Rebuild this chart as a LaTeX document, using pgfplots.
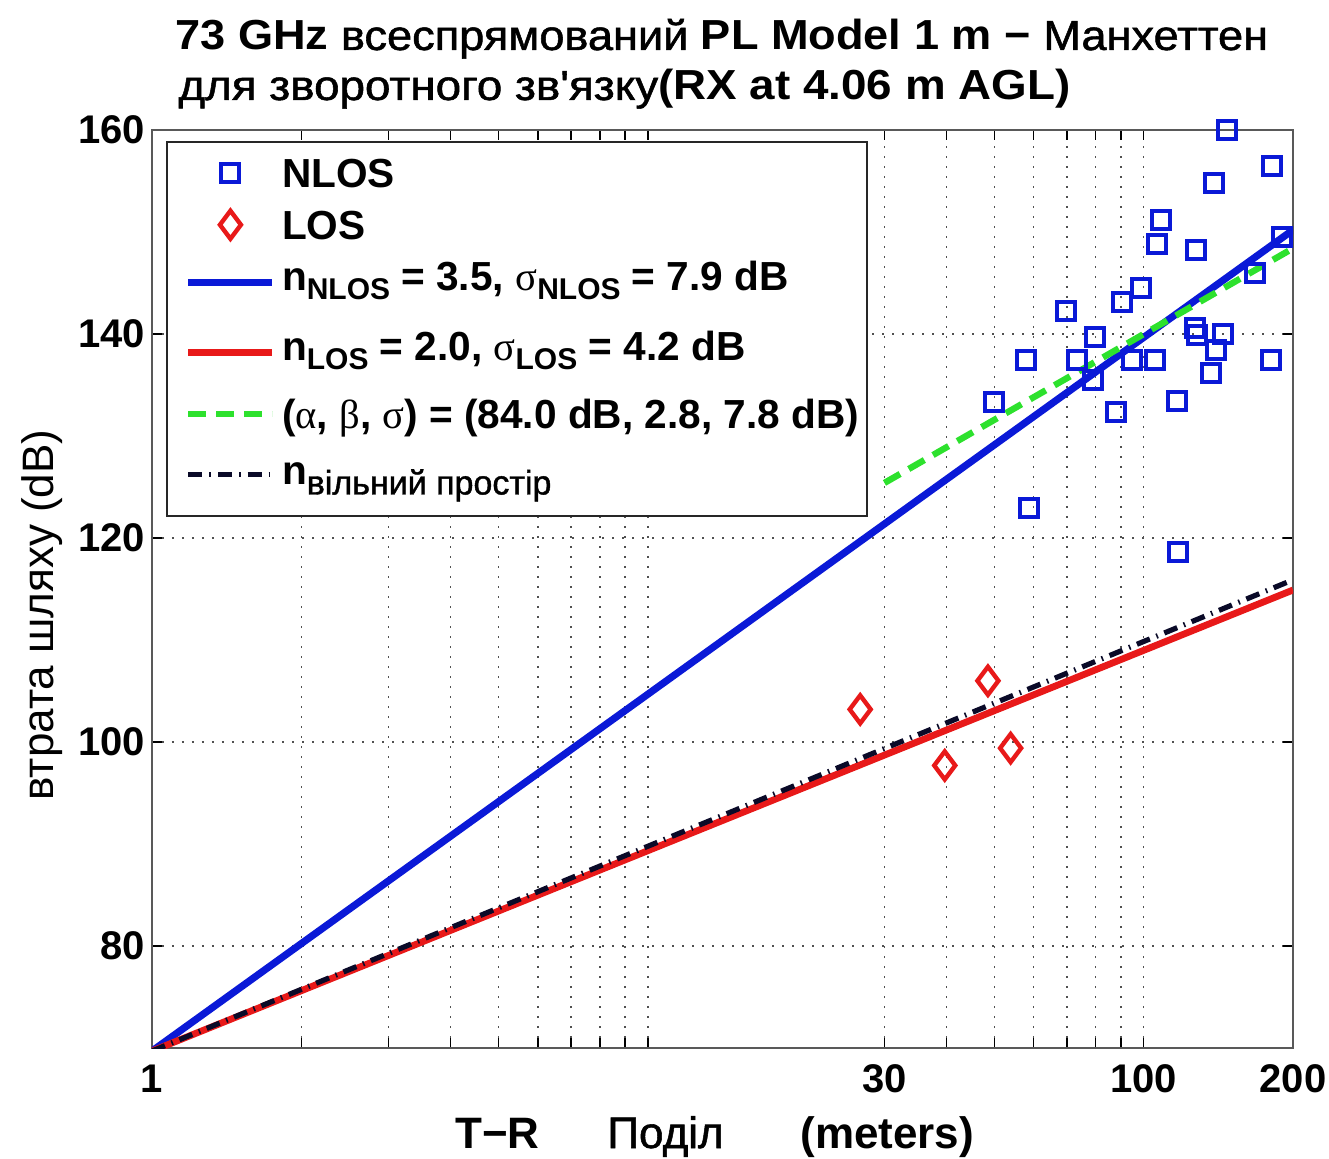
\documentclass[border=0pt]{standalone}
\usepackage{pgfplots}
\pgfplotsset{compat=1.18}
\usepackage{fontspec}
\setmainfont{Liberation Sans}
\newfontfamily\cyr{Liberation Sans}
\newfontfamily\cyrm[FakeBold=1.2]{Liberation Sans}
\newfontfamily\grk{Liberation Serif}
\definecolor{nlosblue}{RGB}{10,25,215}
\definecolor{losred}{RGB}{232,25,25}
\definecolor{fitgreen}{RGB}{45,225,45}
\definecolor{fsblack}{RGB}{10,10,40}
\definecolor{gridgray}{RGB}{80,80,80}
\newcommand{\sub}[1]{\raisebox{-0.45ex}{\fontsize{15}{15}\selectfont #1}}
\begin{document}
\begin{tikzpicture}[x=1pt,y=1pt]
\path[use as bounding box] (-76,-55) rectangle (588.5,524);
\begin{axis}[
  at={(0,0)}, anchor=south west,
  scale only axis, width=570.5pt, height=459pt,
  xmode=log, xmin=1, xmax=200, ymin=70, ymax=160,
  xtick={1,2,3,4,5,6,7,8,9,10,30,40,50,60,70,80,90,100,200},
  xticklabels={1,,,,,,,,,,30,,,,,,,100,200},
  ytick={80,100,120,140,160},
  xminorticks=false, yminorticks=false,
  grid=major,
  major grid style={gridgray, line width=0.7pt, dash pattern=on 0.8pt off 4.2pt},
  tick align=inside, major tick length=5pt,
  tick style={black, line width=0.7pt},
  axis line style={black!65, line width=1.1pt},
  ticklabel style={font=\fontsize{20}{20}\selectfont\bfseries},
  xticklabel style={yshift=-5pt},
  /pgf/number format/assume math mode=true,
  legend cell align=left,
  legend style={at={(0.0123,0.988)}, anchor=north west, draw=black!85, line width=0.8pt,
    fill=white, font=\fontsize{20.3}{24}\selectfont\bfseries,
    inner xsep=3pt, inner ysep=2pt, row sep=0pt, nodes={inner sep=1pt}},
  legend image code/.code={\path (0pt,0pt) (50pt,0pt);\draw[mark repeat=2,mark phase=2,#1] plot coordinates {(6pt,0pt) (27pt,0pt) (48pt,0pt)};},
]
\addplot[only marks, mark=square, mark size=4.5pt, mark options={nlosblue, line width=2pt}] coordinates {
(147.0,160.0) (181.2,156.5) (138.4,154.8) (108.2,151.2) (106.2,148.8) (127.3,148.2)
(189.8,149.5) (167.4,146.0) (98.6,144.5) (90.3,143.1) (69.6,142.3) (126.7,140.6)
(127.9,139.9) (144.3,140.0) (79.6,139.7) (139.7,138.4) (57.8,137.5) (73.3,137.5)
(94.6,137.5) (105.2,137.5) (180.3,137.5) (78.9,135.5) (136.5,136.2) (49.8,133.3)
(116.6,133.4) (87.8,132.4) (58.6,122.9) (117.1,118.6)};
\addlegendentry[text height=17.5pt, text depth=7.5pt]{\raisebox{-2.2pt}{NLOS}}
\addplot[only marks, mark=diamond, mark size=7pt, mark options={losred, line width=2.2pt}] coordinates {
(26.8,103.2) (39.7,97.7) (48.5,106.0) (53.9,99.4)};
\addlegendentry[text height=16.5pt, text depth=6.5pt]{\raisebox{-2.2pt}{LOS}}
\addplot[nlosblue, line width=3.6pt] coordinates {(1,69.7) (200,150.2)};
\addlegendentry[text height=20.5pt, text depth=10.5pt]{\raisebox{1.3pt}{n\sub{NLOS} = 3.5, {\grk\mdseries σ}\sub{NLOS} = 7.9 dB}}
\addplot[losred, line width=3.4pt] coordinates {(1,69.7) (200,114.9)};
\addlegendentry[text height=22.5pt, text depth=12.5pt]{\raisebox{1.3pt}{n\sub{LOS} = 2.0, {\grk\mdseries σ}\sub{LOS} = 4.2 dB}}
\addplot[fitgreen, line width=3.2pt, dash pattern=on 9pt off 5pt] coordinates {(30,125.4) (200,148.4)};
\addlegendentry[text height=16pt, text depth=6pt]{\raisebox{-2.2pt}{({\grk\mdseries α}, {\grk\mdseries β}, {\grk\mdseries σ}) = (84.0 dB, 2.8, 7.8 dB)}}
\addplot[fsblack, line width=2.6pt, dash pattern=on 7pt off 3.5pt on 0.8pt off 3.5pt] coordinates {(1,69.7) (200,115.9)};
\addlegendentry[text height=22.5pt, text depth=12.5pt]{n\sub{\cyrm\mdseries\fontsize{17}{17}\selectfont вільний простір}}
\end{axis}
% title
\node[anchor=base west, inner sep=0pt, font=\fontsize{21}{21}\selectfont] at (11.5,499)
  {\scalebox{1.075}[1]{\bfseries 73 GHz {\cyrm\mdseries всеспрямований} PL Model 1 m − {\cyrm\mdseries Манхеттен}}};
\node[anchor=base west, inner sep=0pt, font=\fontsize{21}{21}\selectfont] at (13,474)
  {\scalebox{1.09}[1]{{\cyrm для зворотного зв\char"27 язку}\bfseries(RX at 4.06 m AGL)}};
% x label
\node[anchor=base west, inner sep=0pt, font=\fontsize{22}{22}\selectfont\bfseries] at (151.5,-50) {T−R};
\node[anchor=base west, inner sep=0pt, font=\fontsize{22}{22}\selectfont\cyrm] at (227.5,-50) {Поділ};
\node[anchor=base west, inner sep=0pt, font=\fontsize{22}{22}\selectfont\bfseries] at (324,-50) {(meters)};
% y label
\node[rotate=90, inner sep=0pt, font=\fontsize{22}{22}\selectfont\cyr] at (-55,216.5) {втрата шляху (dB)};
\end{tikzpicture}
\end{document}
